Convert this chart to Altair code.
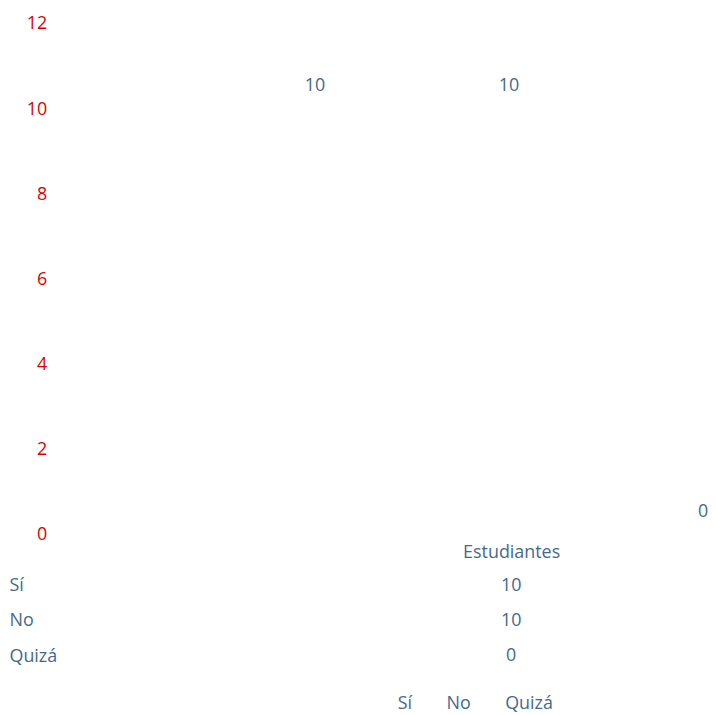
import altair as alt
import pandas as pd

categories = ["Sí", "No", "Quizá"]
values = [10, 10, 0]
series_name = "Estudiantes"
y_ticks = [0, 2, 4, 6, 8, 10, 12]

RED = "#e00000"
BLUE = "#44698f"
FONT = "Open Sans"
FS = 18

df = pd.DataFrame({"cat": categories, "val": values, "serie": [series_name] * len(categories)})

x = alt.X("cat:N", sort=categories,
          scale=alt.Scale(type="point", padding=0.645, align=1), axis=None)
y = alt.Y("val:Q", scale=alt.Scale(domain=[0, 12]),
          axis=alt.Axis(values=y_ticks, title=None, grid=False, domain=False, ticks=False,
                        labelColor=RED, labelFont=FONT, labelFontSize=FS, labelPadding=18))

top = alt.Chart(df).mark_text(dy=-23, font=FONT, fontSize=FS).encode(
    x=x, y=y, text="val:Q",
    color=alt.Color("cat:N", sort=categories,
                    scale=alt.Scale(range=[BLUE] * len(categories)),
                    legend=alt.Legend(orient="none", legendX=313, legendY=675,
                                      direction="horizontal", title=None,
                                      symbolOpacity=0, symbolStrokeWidth=0,
                                      labelColor=BLUE, labelFont=FONT, labelFontSize=FS,
                                      columnPadding=12, labelOffset=4))
).properties(width=642, height=514)

table = alt.Chart(df).mark_text(font=FONT, fontSize=FS, color=BLUE).encode(
    x=alt.X("serie:N", scale=alt.Scale(type="point", align=1, padding=0),
            axis=alt.Axis(orient="top", title=None, domain=False, ticks=False,
                          labelColor=BLUE, labelFont=FONT, labelFontSize=FS,
                          labelPadding=33, labelBaseline="middle", labelAngle=0)),
    y=alt.Y("cat:N", sort=categories, scale=alt.Scale(type="point", padding=0),
            axis=alt.Axis(title=None, domain=False, ticks=False, labelAlign="left",
                          labelPadding=56, labelColor=BLUE, labelFont=FONT, labelFontSize=FS)),
    text="val:Q"
).properties(width=449, height=71)

chart = alt.vconcat(top, table, spacing=51, bounds="flush").properties(
    padding={"left": 1, "top": 5, "right": 0, "bottom": 0}
).configure_view(stroke=None)

chart.save("out.html", embed_options={"renderer": "svg", "actions": False})
